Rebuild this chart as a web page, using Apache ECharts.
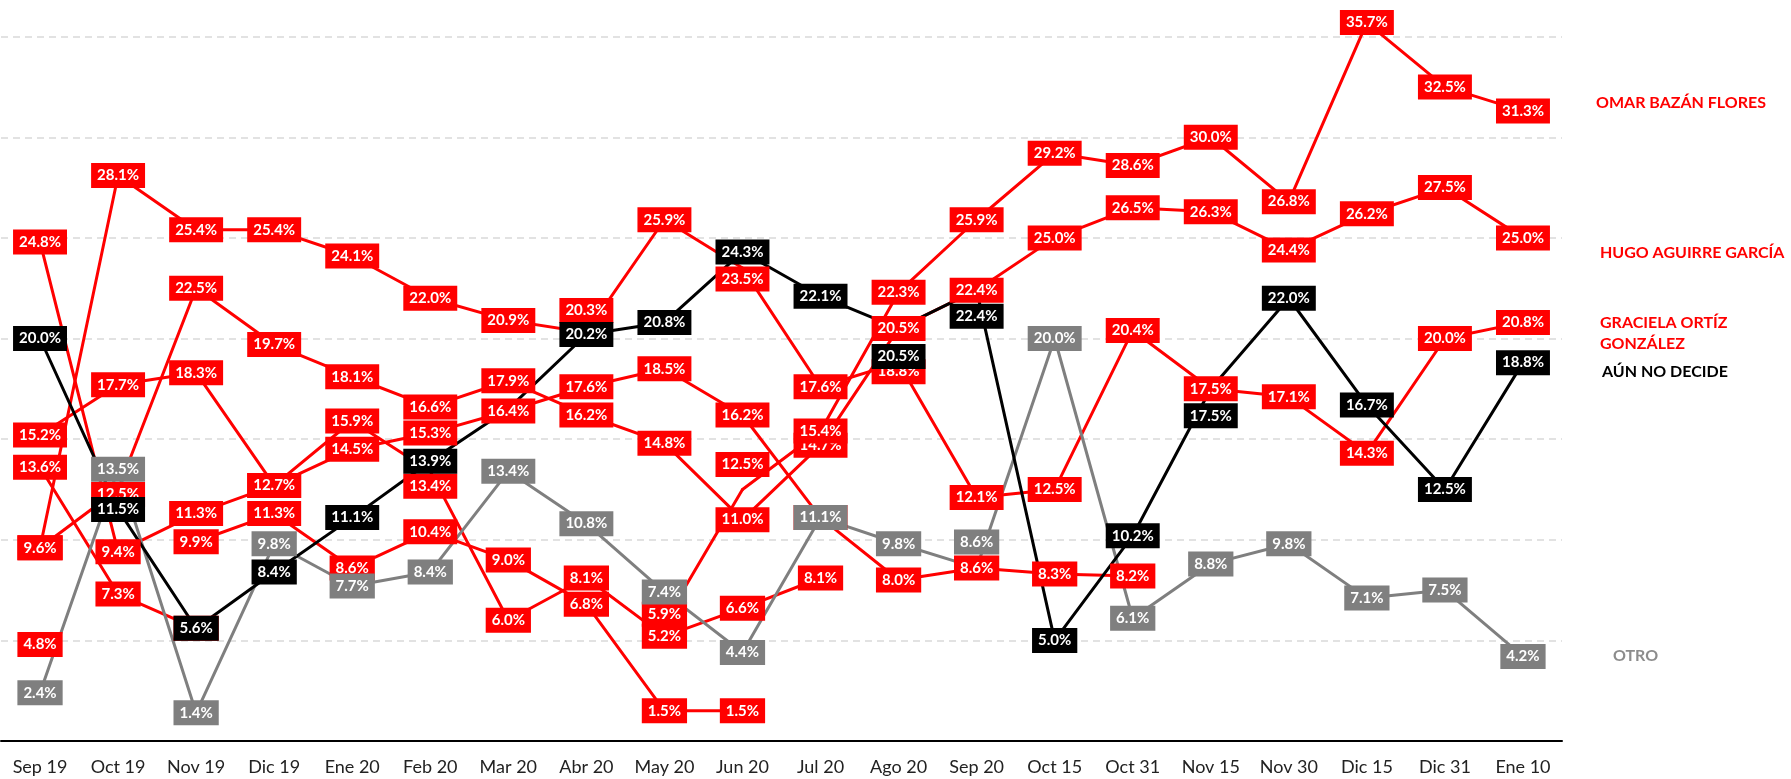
<!DOCTYPE html>
<html>
<head>
<meta charset="utf-8">
<script src="https://cdn.jsdelivr.net/npm/echarts@6/dist/echarts.min.js"></script>
<style>
  html, body { margin: 0; padding: 0; background: #fff; }
  #chart { width: 1791px; height: 779px; }
</style>
</head>
<body>
<div id="chart"></div>
<script>
// categorias del eje x
const categorias = ['Sep 19', 'Oct 19', 'Nov 19', 'Dic 19', 'Ene 20', 'Feb 20', 'Mar 20', 'Abr 20', 'May 20', 'Jun 20',
    'Jul 20', 'Ago 20', 'Sep 20', 'Oct 15', 'Oct 31', 'Nov 15', 'Nov 30', 'Dic 15', 'Dic 31', 'Ene 10'];

const n = null;
// candidatos con nombre
const omar = [n, n, n, n, n, n, n, n, 5.9, 12.5, 15.4, 22.3, 25.9, 29.2, 28.6, 30.0, 26.8, 35.7, 32.5, 31.3];
const hugo = [9.6, 12.5, 22.5, 19.7, 18.1, 16.6, 17.9, 16.2, 14.8, 11.0, 14.7, 20.5, 22.4, 25.0, 26.5, 26.3, 24.4, 26.2, 27.5, 25.0];
const graciela = [9.6, 28.1, 25.4, 25.4, 24.1, 22.0, 20.9, 20.3, 25.9, 23.5, 17.6, 18.8, 12.1, 12.5, 20.4, 17.5, 17.1, 14.3, 20.0, 20.8];
// otros aspirantes (rojo, sin nombre)
const rojoA = [15.2, 17.7, 18.3, 12.7, 15.9, 13.4, 6.0, 8.1, 5.2, 6.6, 8.1, n, n, n, n, n, n, n, n, n];
const rojoB = [24.8, 9.4, 11.3, 12.7, 14.5, 15.3, 16.4, 17.6, 18.5, 16.2, 11.1, 8.0, 8.6, 8.3, 8.2, n, n, n, n, n];
const rojoC = [13.6, 7.3, 5.6, n, n, n, n, n, n, n, n, n, n, n, n, n, n, n, n, n];
const rojoD = [4.8, n, n, n, n, n, n, n, n, n, n, n, n, n, n, n, n, n, n, n];
const rojoE = [n, n, 9.9, 11.3, 8.6, 10.4, 9.0, 6.8, 1.5, 1.5, n, n, n, n, n, n, n, n, n, n];
// indecisos y otro
const noDecide = [20.0, 11.5, 5.6, 8.4, 11.1, 13.9, 16.5, 20.2, 20.8, 24.3, 22.1, 20.5, 22.4, 5.0, 10.2, 17.5, 22.0, 16.7, 12.5, 18.8];
const otro = [2.4, 13.5, 1.4, 9.8, 7.7, 8.4, 13.4, 10.8, 7.4, 4.4, 11.1, 9.8, 8.6, 20.0, 6.1, 8.8, 9.8, 7.1, 7.5, 4.2];

const ROJO = '#ff0000';
const NEGRO = '#000000';
const GRIS = '#7f7f7f';

// desplazamiento vertical de algunas etiquetas (como en el original)
const ajustes = {
    omar: { 8: -8, 9: -25 },
    hugo: { 1: 5 },
    graciela: { 7: -22, 9: 11, 11: 9 },
    rojoA: { 5: 15 },
    noDecide: { 6: 'oculta', 11: 28, 12: 26, 15: 27 },
    otro: { 12: -26 }
};

function datos(valores, nombre) {
    const aj = ajustes[nombre] || {};
    return valores.map(function (v, i) {
        if (v === null) return null;
        if (aj[i] === 'oculta') return { value: v, label: { show: false } };
        if (aj[i] !== undefined) return { value: v, label: { offset: [0, aj[i]] } };
        return v;
    });
}

function serie(nombre, valores, color, finLabel) {
    const s = {
        name: nombre,
        type: 'line',
        data: datos(valores, nombre),
        symbol: 'circle',
        symbolSize: 3,
        showAllSymbol: true,
        clip: false,
        lineStyle: { width: 3, color: color },
        itemStyle: { color: color },
        label: {
            show: true,
            position: 'inside',
            formatter: function (p) { return p.value.toFixed(1) + '%'; },
            color: '#fff',
            backgroundColor: color,
            fontFamily: 'Lato',
            fontWeight: 'bold',
            fontSize: 15,
            lineHeight: 17,
            padding: [4, 6]
        },
        emphasis: { disabled: true }
    };
    if (finLabel) {
        s.endLabel = {
            show: true,
            formatter: finLabel.texto,
            color: finLabel.color,
            fontFamily: 'Lato',
            fontWeight: 'bold',
            fontSize: 16,
            lineHeight: 21,
            distance: 0,
            align: 'left',
            offset: finLabel.offset
        };
    }
    return s;
}

const options = {
    backgroundColor: '#fff',
    animation: false,
    grid: { left: 1, right: 229, top: -64, bottom: 38, outerBoundsMode: 'none' },
    xAxis: {
        type: 'category',
        data: categorias,
        boundaryGap: true,
        axisTick: { show: false },
        axisLine: { lineStyle: { color: '#000', width: 2 } },
        axisLabel: { interval: 0, fontFamily: 'Lato', fontSize: 18, color: '#222', margin: 17 }
    },
    yAxis: {
        type: 'value',
        min: 0,
        max: 40,
        interval: 5,
        axisLabel: { show: false },
        axisLine: { show: false },
        axisTick: { show: false },
        splitLine: { lineStyle: { type: [7, 5], color: '#d9d9d9', width: 1.5 } }
    },
    series: [
        serie('rojoD', rojoD, ROJO),
        serie('rojoC', rojoC, ROJO),
        serie('rojoE', rojoE, ROJO),
        serie('rojoA', rojoA, ROJO),
        serie('rojoB', rojoB, ROJO),
        serie('graciela', graciela, ROJO, { texto: 'GRACIELA ORTÍZ\nGONZÁLEZ', color: ROJO, offset: [77, 11] }),
        serie('hugo', hugo, ROJO, { texto: 'HUGO AGUIRRE GARCÍA', color: ROJO, offset: [77, 15] }),
        serie('omar', omar, ROJO, { texto: 'OMAR BAZÁN FLORES', color: ROJO, offset: [73, -8] }),
        serie('otro', otro, GRIS, { texto: 'OTRO', color: '#8c8c8c', offset: [90, -1] }),
        serie('noDecide', noDecide, NEGRO, { texto: 'AÚN NO DECIDE', color: NEGRO, offset: [79, 9] })
    ]
};

const E = echarts.init(document.getElementById('chart'));
window.onresize = function () {
    E.resize();
};
E.setOption(options);
</script>
</body>
</html>
